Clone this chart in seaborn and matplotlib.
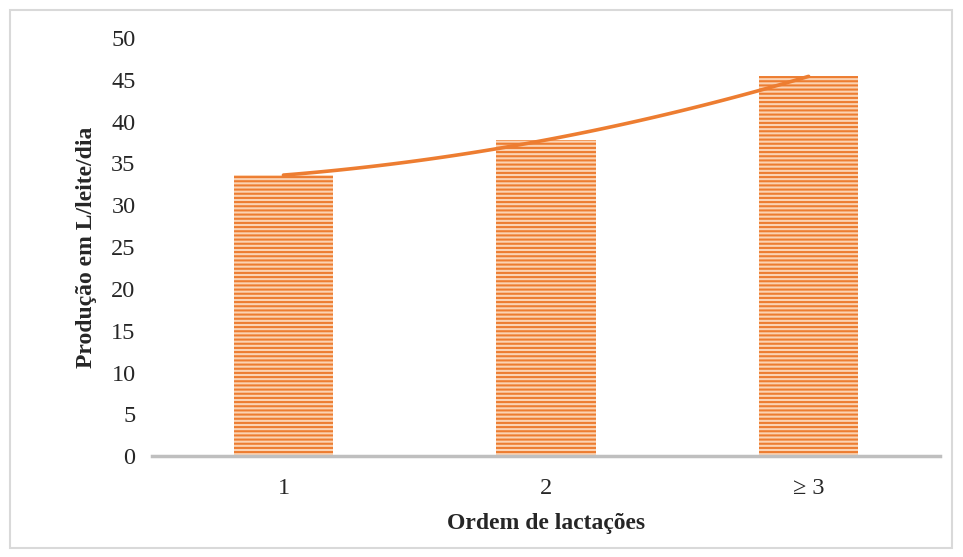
import numpy as np
import pandas as pd
import seaborn as sns
import matplotlib.pyplot as plt
from matplotlib.patches import Rectangle

categorias = ['1', '2', '≥ 3']
producao = [33.6, 37.8, 45.4]

df = pd.DataFrame({'ordem': categorias, 'producao': producao})

sns.set_style('white')
plt.rcParams['font.family'] = ['Liberation Serif', 'DejaVu Serif']
plt.rcParams['hatch.linewidth'] = 1.5
plt.rcParams['hatch.color'] = '#ed7d31'

fig = plt.figure(figsize=(9.63, 5.57), dpi=100)
ax = fig.add_axes([0.158, 0.181, 0.818, 0.751])

sns.barplot(data=df, x='ordem', y='producao', color='#fbd3b3', width=0.38,
            saturation=1, ax=ax)
for p in ax.patches:
    p.set_hatch('----')
    p.set_edgecolor('#ed7d31')
    p.set_linewidth(0)

# linha de tendência polinomial (ordem 2)
xs = np.arange(len(producao))
coef = np.polyfit(xs, producao, 2)
xx = np.linspace(0, len(producao) - 1, 100)
ax.plot(xx, np.polyval(coef, xx), color='#ed7d31', linewidth=2.6, zorder=5)

ax.set_ylim(0, 50)
ax.set_xlim(-0.5, 2.5)
ax.set_yticks(range(0, 51, 5))
ax.tick_params(axis='y', length=0, pad=12, labelsize=17.5)
ax.tick_params(axis='x', length=0, pad=16, labelsize=17.5)
for s in ['top', 'right', 'left']:
    ax.spines[s].set_visible(False)
ax.spines['bottom'].set_color('#bfbfbf')
ax.spines['bottom'].set_linewidth(2.5)

ax.set_xlabel('Ordem de lactações', fontsize=17, fontweight='bold', labelpad=10)
ax.set_ylabel('Produção em L/leite/dia', fontsize=17, fontweight='bold', labelpad=10)

fig.patches.append(Rectangle((10 / 963, 9 / 557), 942 / 963, 538 / 557,
                             transform=fig.transFigure, fill=False,
                             edgecolor='#d9d9d9', linewidth=1.5))

fig.savefig('out.png', dpi=100)
